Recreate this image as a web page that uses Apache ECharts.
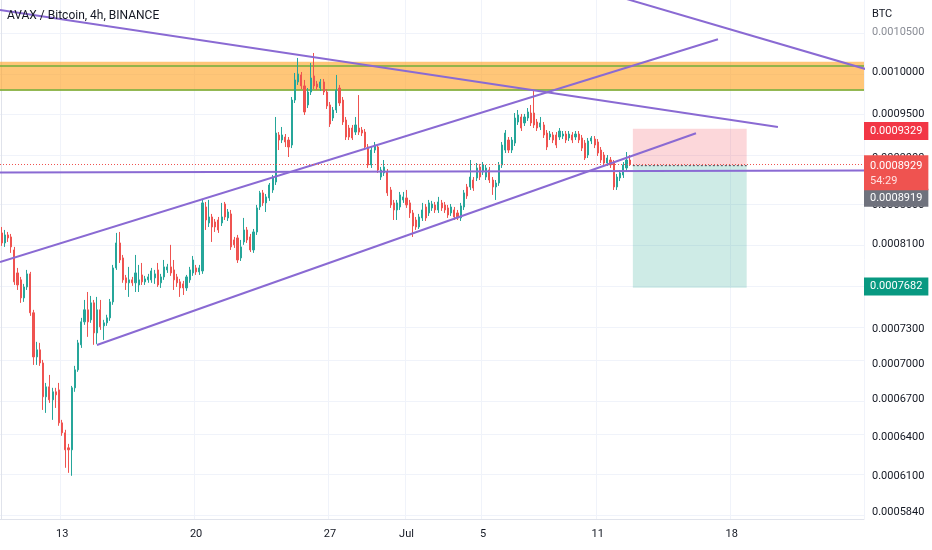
<!DOCTYPE html>
<html><head><meta charset="utf-8">
<script src="https://cdn.jsdelivr.net/npm/echarts@6/dist/echarts.min.js"></script>
<style>html,body{margin:0;padding:0;background:#fff}#c{width:932px;height:550px}</style>
</head><body><div id="c"></div>
<script>
// ---- data ----
const startTime = '2021-06-09T20:00:00Z';   // first 4h candle
const slotCount = 271;                       // 4h slots shown on the time axis
const dayTicks = ['06-13', '06-20', '06-27', '07-01', '07-05', '07-11', '07-18'];
const dayTickLabels = ['13', '20', '27', 'Jul', '5', '11', '18'];
const priceTicks = [0.00105, 0.001, 0.00095, 0.0009, 0.00085, 0.00081, 0.00077, 0.00073, 0.0007, 0.00067, 0.00064, 0.00061, 0.000584];
const yRange = [0.000579, 0.001092];
// [open, close, low, high]
const ohlc = [
[0.0008214,0.0008114,0.0008085,0.0008274],[0.0008114,0.0008194,0.0008075,0.0008244],[0.0008194,0.0008164,0.0008124,0.0008224],[0.0008174,0.0008075,0.0008016,0.0008204],
[0.0008045,0.0007737,0.0007708,0.0008075],[0.0007822,0.0007708,0.0007661,0.0007870],[0.0007756,0.0007587,0.0007541,0.0007784],[0.0007587,0.0007689,0.0007550,0.0007718],
[0.0007689,0.0007813,0.0007661,0.0007851],[0.0007813,0.0007450,0.0007422,0.0007832],[0.0007450,0.0007059,0.0006990,0.0007477],[0.0007059,0.0007120,0.0006990,0.0007190],
[0.0007120,0.0007007,0.0006982,0.0007181],[0.0007007,0.0006723,0.0006616,0.0007033],[0.0006723,0.0006805,0.0006592,0.0006838],[0.0006805,0.0006698,0.0006673,0.0006905],
[0.0006698,0.0006764,0.0006536,0.0006797],[0.0006764,0.0006739,0.0006632,0.0006797],[0.0006780,0.0006512,0.0006489,0.0006838],[0.0006512,0.0006433,0.0006410,0.0006536],
[0.0006433,0.0006301,0.0006164,0.0006457],[0.0006316,0.0006301,0.0006126,0.0006347],[0.0006301,0.0006797,0.0006104,0.0006813],[0.0006797,0.0006948,0.0006764,0.0006982],
[0.0006948,0.0007181,0.0006931,0.0007207],[0.0007164,0.0007368,0.0007137,0.0007404],[0.0007368,0.0007477,0.0007341,0.0007568],[0.0007477,0.0007368,0.0007234,0.0007642],
[0.0007386,0.0007541,0.0007359,0.0007605],[0.0007541,0.0007269,0.0007164,0.0007568],[0.0007269,0.0007477,0.0007172,0.0007596],[0.0007477,0.0007323,0.0007296,0.0007568],
[0.0007332,0.0007359,0.0007207,0.0007386],[0.0007359,0.0007404,0.0007332,0.0007432],[0.0007404,0.0007550,0.0007377,0.0007577],[0.0007550,0.0007870,0.0007523,0.0007899],
[0.0007870,0.0008114,0.0007851,0.0008214],[0.0008114,0.0007947,0.0007918,0.0008224],[0.0007967,0.0007756,0.0007728,0.0007996],[0.0007775,0.0007728,0.0007661,0.0007803],
[0.0007728,0.0007756,0.0007596,0.0007880],[0.0007756,0.0007728,0.0007699,0.0007784],[0.0007728,0.0007822,0.0007642,0.0007996],[0.0007708,0.0007756,0.0007642,0.0007899],
[0.0007803,0.0007737,0.0007708,0.0007918],[0.0007737,0.0007765,0.0007708,0.0007794],[0.0007756,0.0007784,0.0007728,0.0007813],[0.0007756,0.0007841,0.0007728,0.0007870],
[0.0007775,0.0007813,0.0007718,0.0007851],[0.0007851,0.0007708,0.0007689,0.0007918],[0.0007728,0.0007784,0.0007680,0.0007813],[0.0007784,0.0007880,0.0007756,0.0007947],
[0.0007851,0.0007880,0.0007822,0.0007909],[0.0007880,0.0007822,0.0007794,0.0008095],[0.0007851,0.0007756,0.0007661,0.0007947],[0.0007784,0.0007728,0.0007689,0.0007813],
[0.0007737,0.0007680,0.0007596,0.0007765],[0.0007718,0.0007680,0.0007614,0.0007746],[0.0007680,0.0007784,0.0007652,0.0007803],[0.0007756,0.0007851,0.0007728,0.0007880],
[0.0007822,0.0007947,0.0007794,0.0007986],[0.0007870,0.0007832,0.0007803,0.0007899],[0.0007832,0.0007870,0.0007803,0.0007899],[0.0007841,0.0008521,0.0007813,0.0008552],
[0.0008479,0.0008345,0.0008244,0.0008531],[0.0008315,0.0008376,0.0008274,0.0008552],[0.0008376,0.0008274,0.0008124,0.0008407],[0.0008325,0.0008274,0.0008224,0.0008355],
[0.0008345,0.0008244,0.0008214,0.0008376],[0.0008315,0.0008376,0.0008284,0.0008521],[0.0008510,0.0008376,0.0008345,0.0008531],[0.0008366,0.0008427,0.0008335,0.0008458],
[0.0008407,0.0008075,0.0008045,0.0008448],[0.0008144,0.0008095,0.0008065,0.0008174],[0.0008164,0.0007947,0.0007918,0.0008194],[0.0007967,0.0008075,0.0007937,0.0008144],
[0.0008124,0.0008244,0.0008095,0.0008366],[0.0008244,0.0008144,0.0008114,0.0008274],[0.0008174,0.0008045,0.0008025,0.0008204],[0.0008045,0.0008224,0.0008016,0.0008254],
[0.0008224,0.0008469,0.0008194,0.0008500],[0.0008479,0.0008626,0.0008448,0.0008647],[0.0008626,0.0008521,0.0008490,0.0008657],[0.0008521,0.0008584,0.0008427,0.0008615],
[0.0008573,0.0008710,0.0008542,0.0008731],[0.0008657,0.0008785,0.0008626,0.0008817],[0.0008742,0.0009281,0.0008710,0.0009465],[0.0009259,0.0009202,0.0009090,0.0009292],
[0.0009202,0.0009259,0.0009168,0.0009350],[0.0009236,0.0009180,0.0009124,0.0009270],[0.0009202,0.0009124,0.0009013,0.0009236],[0.0009146,0.0009663,0.0009112,0.0009699],
[0.0009663,0.0009903,0.0009628,0.0009988],[0.0009879,0.0009976,0.0009843,0.0010173],[0.0009964,0.0009831,0.0009794,0.0010000],[0.0009831,0.0009523,0.0009488,0.0009903],
[0.0009605,0.0009758,0.0009569,0.0009806],[0.0009758,0.0009927,0.0009723,0.0010111],[0.0009952,0.0009831,0.0009794,0.0010235],[0.0009855,0.0009818,0.0009782,0.0009891],
[0.0009806,0.0009879,0.0009770,0.0009915],[0.0009879,0.0009758,0.0009723,0.0009915],[0.0009758,0.0009593,0.0009558,0.0009794],[0.0009605,0.0009384,0.0009350,0.0009640],
[0.0009453,0.0009546,0.0009419,0.0009581],[0.0009546,0.0009782,0.0009511,0.0009964],[0.0009806,0.0009628,0.0009593,0.0009843],[0.0009663,0.0009407,0.0009373,0.0009699],
[0.0009430,0.0009236,0.0009202,0.0009465],[0.0009338,0.0009236,0.0009202,0.0009373],[0.0009338,0.0009225,0.0009202,0.0009373],[0.0009292,0.0009373,0.0009259,0.0009465],
[0.0009338,0.0009292,0.0009259,0.0009722],[0.0009315,0.0009281,0.0009247,0.0009350],[0.0009292,0.0009124,0.0009090,0.0009327],[0.0009124,0.0008926,0.0008893,0.0009157],
[0.0008926,0.0009090,0.0008893,0.0009124],[0.0009090,0.0009146,0.0009057,0.0009180],[0.0009124,0.0008871,0.0008839,0.0009157],[0.0008795,0.0008871,0.0008763,0.0008904],
[0.0008839,0.0008904,0.0008806,0.0008980],[0.0008849,0.0008626,0.0008594,0.0008882],[0.0008657,0.0008500,0.0008469,0.0008689],[0.0008521,0.0008448,0.0008345,0.0008552],
[0.0008448,0.0008521,0.0008345,0.0008552],[0.0008479,0.0008605,0.0008448,0.0008636],[0.0008552,0.0008584,0.0008521,0.0008636],[0.0008573,0.0008500,0.0008469,0.0008657],
[0.0008521,0.0008417,0.0008366,0.0008552],[0.0008417,0.0008284,0.0008174,0.0008448],[0.0008345,0.0008274,0.0008244,0.0008376],[0.0008274,0.0008376,0.0008254,0.0008407],
[0.0008366,0.0008448,0.0008335,0.0008521],[0.0008479,0.0008366,0.0008335,0.0008510],[0.0008417,0.0008521,0.0008386,0.0008552],[0.0008469,0.0008510,0.0008438,0.0008542],
[0.0008500,0.0008448,0.0008417,0.0008531],[0.0008448,0.0008531,0.0008417,0.0008584],[0.0008521,0.0008469,0.0008438,0.0008552],[0.0008500,0.0008448,0.0008417,0.0008531],
[0.0008469,0.0008396,0.0008366,0.0008500],[0.0008417,0.0008479,0.0008386,0.0008510],[0.0008448,0.0008376,0.0008345,0.0008479],[0.0008417,0.0008366,0.0008345,0.0008448],
[0.0008366,0.0008490,0.0008335,0.0008521],[0.0008479,0.0008626,0.0008448,0.0008657],[0.0008689,0.0008594,0.0008563,0.0008721],[0.0008689,0.0008795,0.0008657,0.0008980],
[0.0008763,0.0008678,0.0008647,0.0008795],[0.0008785,0.0008893,0.0008752,0.0008947],[0.0008904,0.0008795,0.0008763,0.0008937],[0.0008849,0.0008926,0.0008817,0.0008958],
[0.0008795,0.0008893,0.0008763,0.0008926],[0.0008871,0.0008763,0.0008731,0.0008904],[0.0008763,0.0008689,0.0008605,0.0008795],[0.0008689,0.0008731,0.0008552,0.0008763],
[0.0008731,0.0008926,0.0008700,0.0008958],[0.0008926,0.0009146,0.0008893,0.0009180],[0.0009090,0.0009281,0.0009057,0.0009315],[0.0009202,0.0009090,0.0009057,0.0009236],
[0.0009090,0.0009202,0.0009057,0.0009236],[0.0009168,0.0009453,0.0009135,0.0009511],[0.0009407,0.0009488,0.0009373,0.0009546],[0.0009465,0.0009338,0.0009304,0.0009500],
[0.0009396,0.0009465,0.0009361,0.0009500],[0.0009453,0.0009523,0.0009419,0.0009569],[0.0009511,0.0009396,0.0009361,0.0009605],[0.0009511,0.0009373,0.0009338,0.0009782],
[0.0009407,0.0009338,0.0009304,0.0009442],[0.0009350,0.0009396,0.0009315,0.0009465],[0.0009373,0.0009259,0.0009225,0.0009407],[0.0009281,0.0009124,0.0009090,0.0009315],
[0.0009236,0.0009270,0.0009202,0.0009304],[0.0009259,0.0009202,0.0009168,0.0009292],[0.0009259,0.0009146,0.0009112,0.0009292],[0.0009236,0.0009304,0.0009202,0.0009338],
[0.0009247,0.0009270,0.0009213,0.0009304],[0.0009270,0.0009202,0.0009168,0.0009304],[0.0009225,0.0009270,0.0009191,0.0009304],[0.0009259,0.0009202,0.0009168,0.0009292],
[0.0009236,0.0009270,0.0009202,0.0009304],[0.0009270,0.0009202,0.0009168,0.0009304],[0.0009225,0.0009112,0.0009079,0.0009259],[0.0009168,0.0009002,0.0008980,0.0009202],
[0.0009035,0.0009191,0.0009002,0.0009225],[0.0009191,0.0009225,0.0009157,0.0009247],[0.0009213,0.0009146,0.0009112,0.0009247],[0.0009180,0.0009057,0.0009024,0.0009213],
[0.0009090,0.0008980,0.0008947,0.0009124],[0.0009035,0.0008947,0.0008915,0.0009068],[0.0008947,0.0009002,0.0008915,0.0009035],[0.0008980,0.0008926,0.0008893,0.0009013],
[0.0008947,0.0008689,0.0008657,0.0008980],[0.0008689,0.0008795,0.0008657,0.0008828],[0.0008785,0.0008839,0.0008752,0.0008871],[0.0008817,0.0008926,0.0008785,0.0008958],
[0.0008893,0.0008980,0.0008860,0.0009068],[0.0008980,0.0008929,0.0008915,0.0009035]
];
const lastPrice = 0.0008929;
const countdown = '54:29';
const stopPrice = 0.0009329;
const entryPrice = 0.0008919;
const targetPrice = 0.0007682;
const positionSpan = [198, 233.7];           // candle-slot positions of the position tool
const zoneTop = 0.0010127;
const zoneBottom = 0.0009774;
// drawn lines: [[slot, price], [slot, price]]
const trendLines = [
  [[-0.5, 0.0010787], [243.5, 0.0009350]],
  [[194.0, 0.0010959], [272.4, 0.0010020]],
  [[-0.5, 0.0007927], [224.7, 0.0010408]],
  [[29.9, 0.0007162], [217.8, 0.0009278]],
  [[-0.5, 0.0008844], [272.4, 0.0008865]]
];

// ---- chart ----
const L = Math.log;
const categories = [];
const t0 = Date.parse(startTime);
for (let i = 0; i < slotCount; i++) {
  const d = new Date(t0 + i * 4 * 3600e3);
  const p = n => String(n).padStart(2, '0');
  categories.push(p(d.getUTCMonth() + 1) + '-' + p(d.getUTCDate()) + ' ' + p(d.getUTCHours()) + ':00');
}
const tickMap = {};
dayTicks.forEach((d, k) => { tickMap[d + ' 00:00'] = dayTickLabels[k]; });

const FONT = 'Roboto';
const purple = '#8a6ad3';
const hiddenLine = { color: 'rgba(0,0,0,0)', width: 0 };
const priceLabel = (bg) => ({
  show: true, position: 'end', distance: 0, color: '#fff', backgroundColor: bg,
  padding: [3, 6, 2, 6], fontSize: 11, fontFamily: FONT, lineHeight: 13
});

const series = [
  { // horizontal grid lines
    type: 'line', xAxisIndex: 1, yAxisIndex: 0, data: [], z: 0, silent: true,
    markLine: { silent: true, z: 0, symbol: ['none', 'none'], label: { show: false }, animation: false,
      lineStyle: { color: '#f0f3fa', width: 1, type: 'solid' },
      data: priceTicks.map(p => ({ yAxis: L(p) })) }
  },
  { // orange resistance zone
    type: 'line', xAxisIndex: 1, yAxisIndex: 0, data: [], z: 1, silent: true,
    markArea: { silent: true, z: 1, itemStyle: { color: 'rgba(255,160,30,0.6)' },
      data: [[{ yAxis: L(zoneTop) }, { yAxis: L(zoneBottom) }]] },
    markLine: { silent: true, z: 1, symbol: ['none', 'none'], label: { show: false }, animation: false,
      lineStyle: { color: '#6fae3c', width: 1.5, type: 'solid' },
      data: [{ yAxis: L(zoneTop) }, { yAxis: L(zoneBottom) }] }
  },
  { // short position tool
    type: 'line', xAxisIndex: 1, yAxisIndex: 0, z: 1, silent: true, symbol: 'none',
    data: [[positionSpan[0], L(entryPrice)], [positionSpan[1], L(entryPrice)]],
    lineStyle: { color: '#5d606b', width: 1.2, type: [2, 2] },
    markArea: { silent: true, z: 1,
      data: [
        [{ xAxis: positionSpan[0], yAxis: L(stopPrice), itemStyle: { color: 'rgba(242,54,69,0.2)' } }, { xAxis: positionSpan[1], yAxis: L(entryPrice) }],
        [{ xAxis: positionSpan[0], yAxis: L(entryPrice), itemStyle: { color: 'rgba(8,153,129,0.2)' } }, { xAxis: positionSpan[1], yAxis: L(targetPrice) }]
      ] }
  },
  {
    type: 'candlestick', xAxisIndex: 0, yAxisIndex: 0, z: 2,
    data: ohlc.map(r => r.map(v => L(v))),
    barWidth: 1.6,
    itemStyle: { color: '#26a69a', color0: '#ef5350', borderColor: '#26a69a', borderColor0: '#ef5350', borderWidth: 1 },
    markLine: {
      silent: true, symbol: ['none', 'none'], animation: false, z: 5,
      data: [
        { yAxis: L(stopPrice), lineStyle: hiddenLine,
          label: Object.assign(priceLabel('#f23645'), { formatter: stopPrice.toFixed(7) }) },
        { yAxis: L(entryPrice), lineStyle: hiddenLine,
          label: Object.assign(priceLabel('#6f727d'), { offset: [0, 34], formatter: entryPrice.toFixed(7) }) },
        { yAxis: L(targetPrice), lineStyle: hiddenLine,
          label: Object.assign(priceLabel('#089981'), { formatter: targetPrice.toFixed(7) }) },
        { yAxis: L(lastPrice), lineStyle: { color: '#ef5350', width: 1, type: [1, 2] },
          label: Object.assign(priceLabel('#ef5350'), {
            offset: [0, 9],
            formatter: '{a|' + lastPrice.toFixed(7) + '}\n{b|' + countdown + '}',
            rich: { a: { color: '#fff', fontSize: 11, fontFamily: FONT, lineHeight: 15 },
                    b: { color: '#ffe0e0', fontSize: 11, fontFamily: FONT, lineHeight: 15 } } }) }
      ]
    }
  }
];
trendLines.forEach(seg => {
  series.push({
    type: 'line', xAxisIndex: 1, yAxisIndex: 0, z: 3, silent: true, symbol: 'none', clip: true,
    data: seg.map(pt => [pt[0], L(pt[1])]),
    lineStyle: { color: purple, width: 2 }
  });
});

const chart = echarts.init(document.getElementById('c'), null, { renderer: 'canvas' });
chart.setOption({
  animation: false,
  backgroundColor: '#ffffff',
  title: [
    { text: 'AVAX / Bitcoin, 4h, BINANCE', left: 7, top: 10, padding: 0,
      textStyle: { fontSize: 12, fontWeight: 'normal', color: '#131722', fontFamily: FONT } },
    { text: 'BTC', left: 872, top: 9, padding: 0,
      textStyle: { fontSize: 11, fontWeight: 'normal', color: '#131722', fontFamily: FONT } }
  ],
  grid: { left: 0, right: 68, top: 0, bottom: 31, containLabel: false, outerBoundsMode: 'none' },
  xAxis: [
    { type: 'category', data: categories, boundaryGap: true,
      axisLine: { show: true, lineStyle: { color: '#e0e3eb' } },
      axisTick: { show: false },
      axisLabel: { interval: (i, v) => v in tickMap, formatter: v => tickMap[v] || '',
        color: '#131722', fontSize: 11, fontFamily: FONT, margin: 10 },
      splitLine: { show: true, lineStyle: { color: '#f0f3fa', width: 1 } } },
    { type: 'value', min: -0.5, max: slotCount - 0.5, show: false }
  ],
  yAxis: {
    type: 'value', position: 'right', scale: true, min: L(yRange[0]), max: L(yRange[1]),
    axisLine: { show: true, lineStyle: { color: '#e0e3eb' } },
    axisTick: { show: false },
    splitLine: { show: false },
    axisLabel: { customValues: priceTicks.map(p => L(p)), formatter: v => Math.exp(v).toFixed(7),
      color: (v) => (Math.exp(v) > 0.00104 ? '#8a8d96' : '#131722'),
      fontSize: 11, fontFamily: FONT, margin: 8 }
  },
  series: series
});
</script>
</body></html>
